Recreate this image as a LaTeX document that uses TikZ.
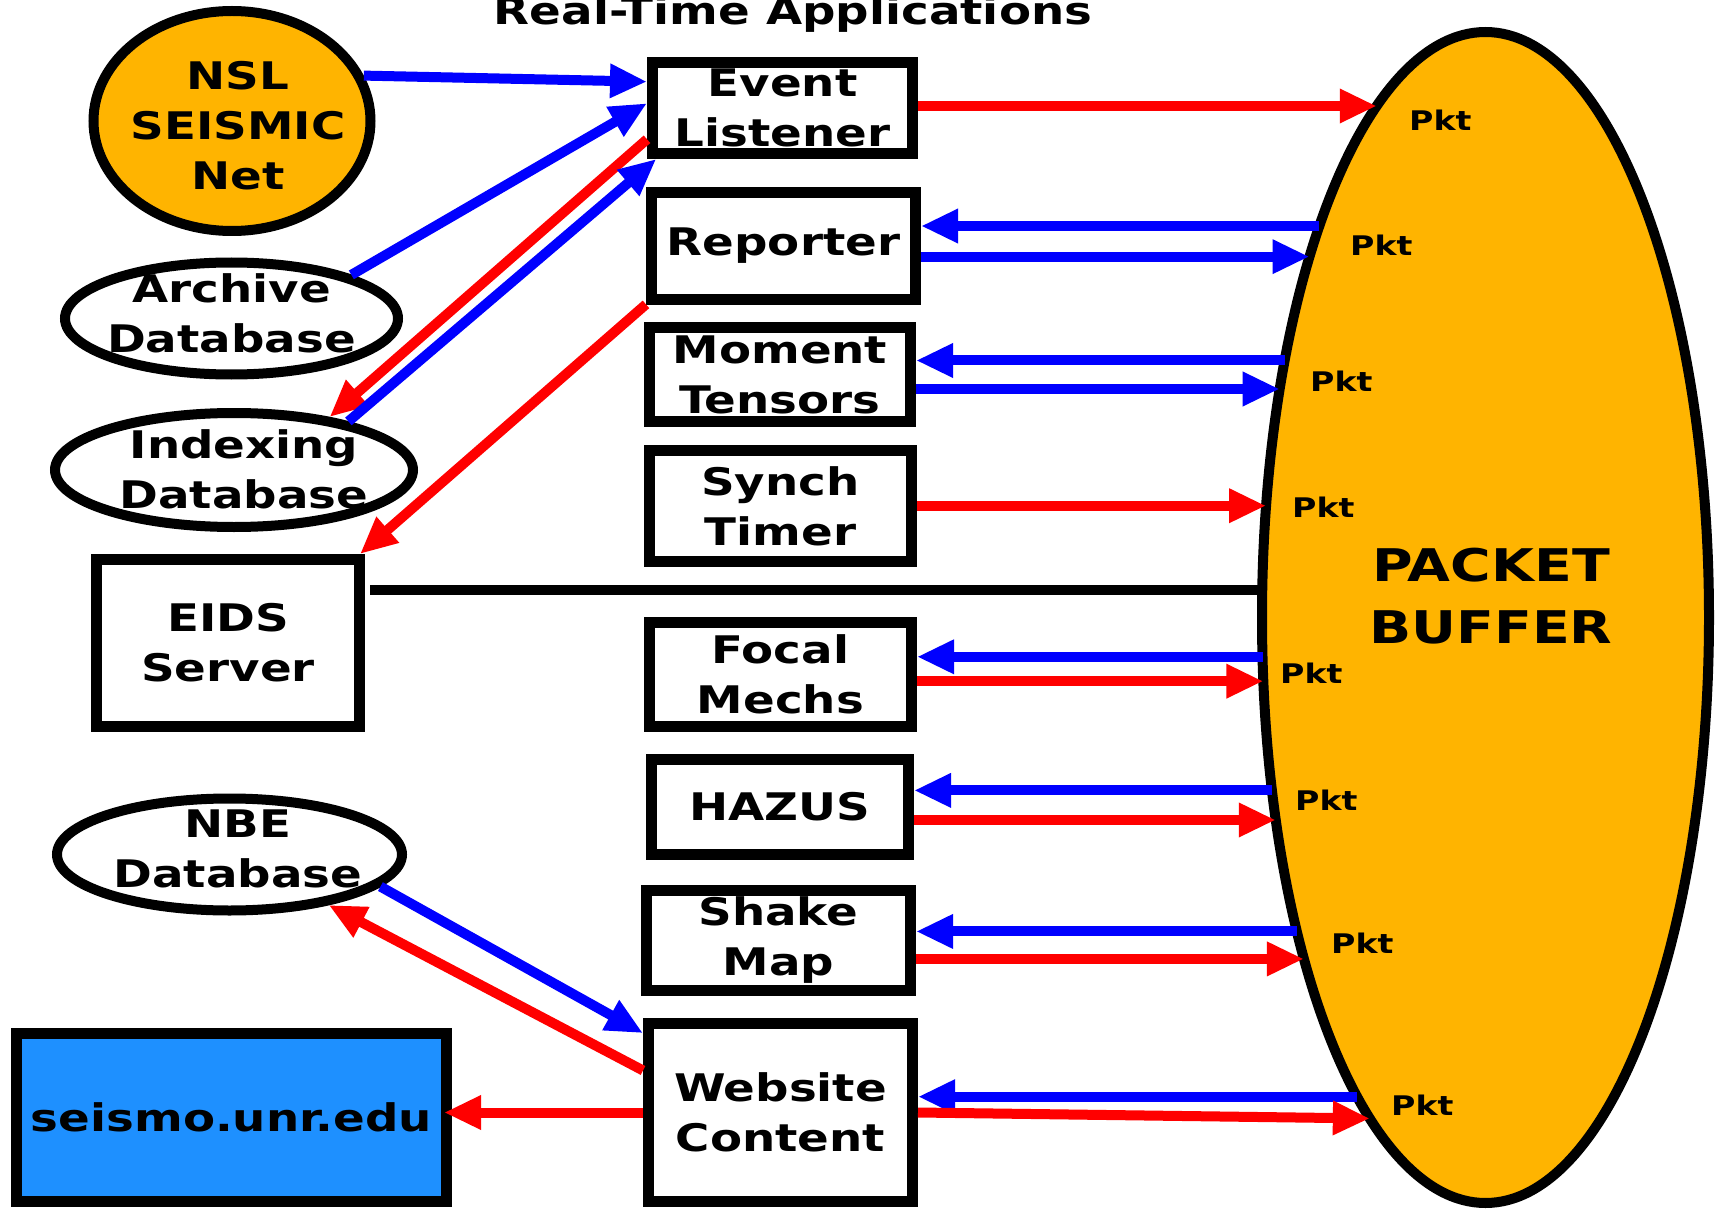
\documentclass[tikz,border=0pt]{standalone}
\usepackage{fontspec}
\setmainfont{DejaVu Sans}[FakeStretch=1.23]
\usetikzlibrary{arrows.meta,shapes.geometric}
\definecolor{pborange}{HTML}{FFB400}
\definecolor{webblue}{HTML}{1E90FF}
\definecolor{rd}{HTML}{FF0000}
\definecolor{bl}{HTML}{0000FF}
\newcommand\mainfs{\bfseries\fontsize{38}{50}\selectfont}
\newcommand\pktfs{\bfseries\fontsize{27}{32}\selectfont}
\newcommand\bigfs{\bfseries\fontsize{45}{62}\selectfont}
\begin{document}
\begin{tikzpicture}[x=1pt,y=-1pt,
  box/.style={draw, line width=11pt, rectangle, inner sep=0pt, align=center, font=\mainfs},
  ell/.style={draw, line width=10pt, ellipse, inner sep=0pt},
  txt/.style={inner sep=0pt, align=center, font=\mainfs},
  pkt/.style={inner sep=0pt, anchor=west, font=\pktfs},
  arr/.style={line width=10pt, -{Triangle[length=37pt,width=32pt]}},
  redarr/.style={arr, color=rd},
  bluearr/.style={arr, color=bl},
  blk/.style={line width=10pt, black}]
\useasboundingbox (0,0) rectangle (1717,1209);

% title
\node[txt] (title) at (793,14) {Real-Time Applications};

% packet buffer
\node[ell, fill=pborange, outer sep=0pt, minimum width=447pt, minimum height=1171pt] (pb) at (1485.5,617.5) {};
\node[txt, font=\bigfs] (pbT) at (1491,596) {PACKET\\BUFFER};

% left ellipses
\node[ell, fill=pborange, minimum width=277pt, minimum height=220pt] (nsl) at (232,121) {};
\node[txt] (nslT) at (238,125.5) {NSL\\SEISMIC\\Net};
\node[ell, fill=white, minimum width=333pt, minimum height=112pt] (arc) at (231.5,318.5) {};
\node[txt] (arcT) at (231.5,313) {Archive\\Database};
\node[ell, fill=white, minimum width=358pt, minimum height=114pt] (idx) at (234,470) {};
\node[txt] (idxT) at (244,469) {Indexing\\Database};
\node[ell, fill=white, minimum width=345pt, minimum height=112pt] (nbe) at (229.5,854.5) {};
\node[txt] (nbeT) at (238,849) {NBE\\Database};

% boxes
\node[box, minimum width=260pt, minimum height=91pt] (ev) at (782.5,108) {Event\\Listener};
\node[box, minimum width=264pt, minimum height=107pt] (rep) at (783.5,246) {Reporter};
\node[box, minimum width=261pt, minimum height=94pt] (mom) at (780,374.5) {Moment\\Tensors};
\node[box, minimum width=262pt, minimum height=111pt] (syn) at (780.5,506) {Synch\\Timer};
\node[box, minimum width=263pt, minimum height=167pt] (eids) at (228,643) {EIDS\\Server};
\node[box, minimum width=262pt, minimum height=104pt] (foc) at (780.5,674.5) {Focal\\Mechs};
\node[box, minimum width=257pt, minimum height=95pt] (haz) at (780,807) {HAZUS};
\node[box, minimum width=264pt, minimum height=100pt] (shk) at (778.5,940.5) {Shake\\Map};
\node[box, minimum width=264pt, minimum height=178pt] (web) at (780.5,1112.5) {Website\\Content};
\node[box, fill=webblue, minimum width=430pt, minimum height=168pt] (seis) at (231.5,1117.5) {seismo.unr.edu};

% Pkt labels
\node[pkt] (k1) at (1409,120) {Pkt};
\node[pkt] (k2) at (1350,245) {Pkt};
\node[pkt] (k3) at (1310,381) {Pkt};
\node[pkt] (k4) at (1292,507) {Pkt};
\node[pkt] (k5) at (1280,673) {Pkt};
\node[pkt] (k6) at (1295,800) {Pkt};
\node[pkt] (k7) at (1331,943) {Pkt};
\node[pkt] (k8) at (1391,1105) {Pkt};

% separator line
\draw[blk] ([xshift=5pt]eids.east |- pb.173) -- (pb.173);

% arrows to/from packet buffer
\draw[redarr] (pb.102 -| ev.east) -- (pb.102);
\draw[bluearr] (pb.113) -- (pb.113 -| rep.east);
\draw[bluearr] (pb.116 -| rep.east) -- (pb.116);
\draw[bluearr] (pb.128) -- (pb.128 -| mom.east);
\draw[bluearr] (pb.132 -| mom.east) -- (pb.132);
\draw[redarr] (pb.153 -| syn.east) -- (pb.153);
\draw[bluearr] (pb.190) -- (pb.190 -| foc.east);
\draw[redarr] (pb.196 -| foc.east) -- (pb.196);
\draw[bluearr] (pb.219) -- (pb.219 -| haz.east);
\draw[redarr] (pb.224 -| haz.east) -- (pb.224);
\draw[bluearr] (pb.239) -- (pb.239 -| shk.east);
\draw[redarr] (pb.242 -| shk.east) -- (pb.242);
\draw[bluearr] (pb.255) -- (pb.255 -| web.east);
\draw[redarr] (web.east) -- (pb.257);

% left side arrows
\draw[bluearr] (nsl.19) -- (ev.169);
\draw[bluearr] (arc.20) -- (ev.178);
\draw[redarr] (ev.193) -- (idx.29);
\draw[bluearr] (idx.23) -- (ev.202);
\draw[redarr] (rep.203) -- (eids.34);
\draw[redarr] (web.163) -- (nbe.333);
\draw[bluearr] (nbe.348) -- (web.150);
\draw[redarr, shorten >=-8pt] (web.west) -- (web.west -| seis.east);
\end{tikzpicture}
\end{document}
